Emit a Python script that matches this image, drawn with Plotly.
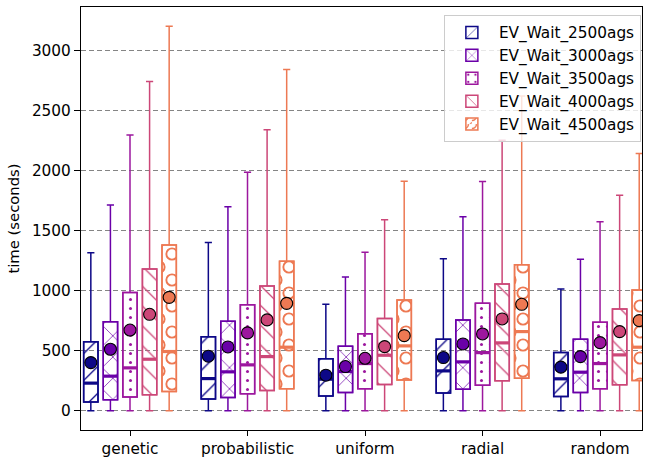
import plotly.graph_objects as go

categories = ["genetic", "probabilistic", "uniform", "radial", "random"]
series_names = ["EV_Wait_2500ags", "EV_Wait_3000ags", "EV_Wait_3500ags",
                "EV_Wait_4000ags", "EV_Wait_4500ags"]

# per series, values for each category (genetic, probabilistic, uniform, radial, random)
lower_2500 = [0, 0, 0, 0, 0]
q1_2500 = [72, 97, 122, 147, 119]
med_2500 = [230, 268, 263, 332, 266]
q3_2500 = [575, 617, 432, 595, 484]
upper_2500 = [1315, 1401, 886, 1265, 1013]
mean_2500 = [401, 454, 296, 443, 363]

lower_3000 = [0, 0, 0, 0, 0]
q1_3000 = [91, 111, 152, 180, 152]
med_3000 = [288, 324, 327, 407, 321]
q3_3000 = [741, 745, 537, 756, 595]
upper_3000 = [1713, 1697, 1113, 1614, 1260]
mean_3000 = [512, 531, 368, 556, 451]

lower_3500 = [0, 0, 0, 0, 0]
q1_3500 = [114, 141, 183, 213, 183]
med_3500 = [357, 382, 393, 484, 393]
q3_3500 = [985, 883, 640, 894, 737]
upper_3500 = [2295, 1985, 1320, 1908, 1572]
mean_3500 = [672, 648, 437, 639, 567]

lower_4000 = [0, 0, 0, 0, 0]
q1_4000 = [133, 169, 219, 249, 216]
med_4000 = [429, 451, 462, 565, 465]
q3_4000 = [1179, 1038, 767, 1055, 847]
upper_4000 = [2740, 2339, 1589, 2251, 1794]
mean_4000 = [803, 756, 534, 764, 659]

lower_4500 = [0, 0, 0, 0, 0]
q1_4500 = [161, 183, 257, 271, 252]
med_4500 = [493, 529, 540, 659, 529]
q3_4500 = [1379, 1245, 922, 1215, 1005]
upper_4500 = [3200, 2840, 1910, 2620, 2140]
mean_4500 = [944, 894, 625, 886, 750]

y_ticks = [0, 500, 1000, 1500, 2000, 2500, 3000]

stats = [
    (lower_2500, q1_2500, med_2500, q3_2500, upper_2500, mean_2500),
    (lower_3000, q1_3000, med_3000, q3_3000, upper_3000, mean_3000),
    (lower_3500, q1_3500, med_3500, q3_3500, upper_3500, mean_3500),
    (lower_4000, q1_4000, med_4000, q3_4000, upper_4000, mean_4000),
    (lower_4500, q1_4500, med_4500, q3_4500, upper_4500, mean_4500),
]

colors = ["#0d0887", "#6a00a8", "#9c179e", "#cc4778", "#ed7953"]


def ring(cx, cy, R, r):
    return (f"M{cx-R},{cy} A{R},{R} 0 1,0 {cx+R},{cy} A{R},{R} 0 1,0 {cx-R},{cy} Z "
            f"M{cx-r},{cy} A{r},{r} 0 1,1 {cx+r},{cy} A{r},{r} 0 1,1 {cx-r},{cy} Z")


T = 26
RO, RI = 6.6, 4.7
o_path = " ".join([ring(T / 2, T / 2, RO, RI), ring(0, 0, RO, RI), ring(T, 0, RO, RI),
                   ring(0, T, RO, RI), ring(T, T, RO, RI)])

patterns = [
    dict(shape="/", size=19, solidity=0.07),
    dict(shape="x", size=15, solidity=0.09),
    dict(shape=".", size=9, solidity=0.09),
    dict(shape="\\", size=14, solidity=0.09),
    dict(path=o_path, size=T),
]

offsets = [-2 / 6, -1 / 6, 0, 1 / 6, 2 / 6]
box_w = 0.122

fig = go.Figure()

for k, (name, st, col, pat, off) in enumerate(zip(series_names, stats, colors, patterns, offsets)):
    lo, q1, med, q3, up, mn = st
    xs = [i + off for i in range(len(categories))]
    # hatched box body (legend entry)
    fig.add_trace(go.Bar(
        x=xs, y=[b - a for a, b in zip(q1, q3)], base=q1, width=box_w,
        name=name, legendgroup=name,
        marker=dict(color="rgba(0,0,0,0)", line=dict(color=col, width=1.5),
                    pattern=dict(fgcolor=col, fgopacity=1, fillmode="overlay", **pat)),
        hoverinfo="skip",
    ))
    # whiskers and box outline
    fig.add_trace(go.Box(
        x=xs, q1=q1, median=med, q3=q3, lowerfence=lo, upperfence=up,
        width=box_w, whiskerwidth=0.5, boxpoints=False,
        line=dict(color=col, width=1.5), fillcolor="rgba(0,0,0,0)",
        showlegend=False, legendgroup=name, hoverinfo="skip",
    ))
    # thick median
    fig.add_trace(go.Scatter(
        x=xs, y=med, mode="markers", showlegend=False, legendgroup=name,
        marker=dict(symbol="line-ew", size=10.3, line=dict(color=col, width=3.2)),
        hoverinfo="skip",
    ))
    # mean
    fig.add_trace(go.Scatter(
        x=xs, y=mn, mode="markers", showlegend=False, legendgroup=name,
        marker=dict(symbol="circle", size=12, color=col, line=dict(color="black", width=1.1)),
        hoverinfo="skip",
    ))

font = "DejaVu Sans"
fig.update_layout(
    width=647, height=462,
    margin=dict(l=81, r=5, t=7, b=32),
    paper_bgcolor="white", plot_bgcolor="white",
    barmode="overlay", boxmode="overlay",
    font=dict(family=font, size=15.3, color="black"),
    legend=dict(x=0.998, xanchor="right", y=0.981, yanchor="top",
                bgcolor="rgba(255,255,255,0.8)", bordercolor="#cccccc", borderwidth=1,
                font=dict(size=15.3), tracegroupgap=0, itemwidth=44),
    xaxis=dict(range=[-0.417, 4.357], tickvals=list(range(len(categories))), ticktext=categories,
               showgrid=False, zeroline=False, showline=True, linecolor="black", linewidth=1.2,
               mirror=True, ticks="outside", ticklen=5, tickcolor="black"),
    yaxis=dict(range=[-160, 3360], tickvals=y_ticks, showgrid=True, gridcolor="#858585",
               griddash="5px,3px", gridwidth=1, zeroline=False, showline=True, linecolor="black",
               linewidth=1.2, mirror=True, ticks="outside", ticklen=6, tickcolor="black",
               title=dict(text="time (seconds)", standoff=8, font=dict(size=14.8))),
)

fig.write_html("out.html")
